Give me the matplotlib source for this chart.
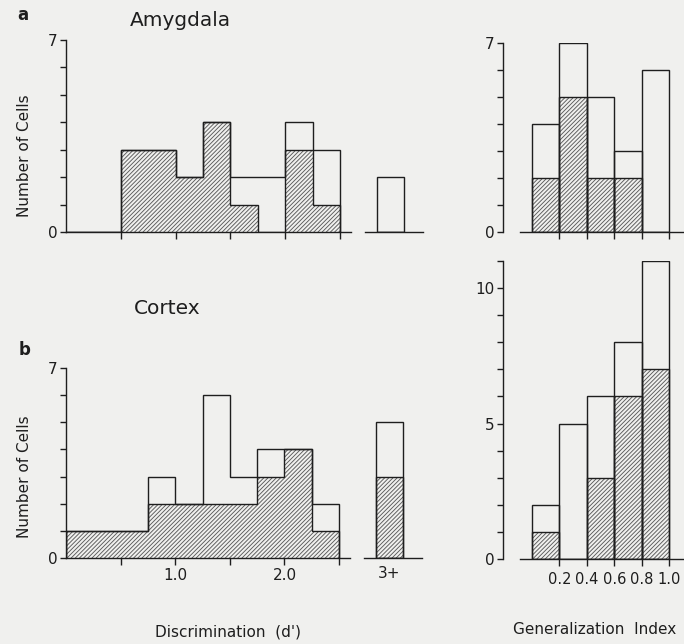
import numpy as np
import matplotlib
matplotlib.use("Agg")
from matplotlib import pyplot as plt

# ---- data ----
disc_edges = np.arange(0, 2.51, 0.25)
amyg_disc_total = [0, 0, 3, 3, 2, 4, 2, 2, 4, 3]
amyg_disc_hatch = [0, 0, 3, 3, 2, 4, 1, 0, 3, 1]
amyg_3plus_total = [2]
amyg_3plus_hatch = [0]

ctx_disc_total = [1, 1, 1, 3, 2, 6, 3, 4, 4, 2]
ctx_disc_hatch = [1, 1, 1, 2, 2, 2, 2, 3, 4, 1]
ctx_3plus_total = [5]
ctx_3plus_hatch = [3]

gen_centers = [0.1, 0.3, 0.5, 0.7, 0.9]
amyg_gen_total = [4, 7, 5, 3, 6]
amyg_gen_hatch = [2, 5, 2, 2, 0]
ctx_gen_total = [2, 5, 6, 8, 11]
ctx_gen_hatch = [1, 0, 3, 6, 7]

# ---- style ----
W, H = 684, 644
BG = "#f0f0ee"
INK = "#1e1e1e"
HATCH_COL = "#5a5a5a"
HATCH = "/" * 8
plt.rcParams["font.family"] = "DejaVu Sans"
plt.rcParams["hatch.linewidth"] = 0.65
plt.rcParams["hatch.color"] = HATCH_COL

fig = plt.figure(figsize=(W / 100, H / 100), dpi=100, facecolor=BG)


def px_axes(x0, x1, ytop, ybot):
    a = fig.add_axes([x0 / W, 1 - ybot / H, (x1 - x0) / W, (ybot - ytop) / H])
    a.set_facecolor("none")
    for s in a.spines.values():
        s.set_color(INK)
        s.set_linewidth(1.0)
    a.spines["top"].set_visible(False)
    a.spines["right"].set_visible(False)
    a.tick_params(direction="out", length=4, width=1.0, color=INK,
                  labelcolor=INK, labelsize=11, pad=2)
    return a


def stair_hist(a, total, hatched, edges):
    a.stairs(hatched, edges, fill=True, hatch=HATCH, facecolor="none",
             edgecolor=HATCH_COL, linewidth=0)
    a.stairs(hatched, edges, fill=False, baseline=0, color=INK, linewidth=1.0)
    a.stairs(total, edges, fill=False, baseline=0, color=INK, linewidth=1.0)


def bar_hist(a, x, total, hatched, width):
    a.bar(x, hatched, width=width, facecolor="none", edgecolor=HATCH_COL,
          hatch=HATCH, linewidth=0)
    a.bar(x, hatched, width=width, facecolor="none", edgecolor=INK, linewidth=1.0)
    a.bar(x, total, width=width, facecolor="none", edgecolor=INK, linewidth=1.0)


def left_panel(rect, rect3, total, hatched, t3, h3, show_labels):
    a = px_axes(*rect)
    stair_hist(a, total, hatched, disc_edges)
    a.set_xlim(0, 2.6)
    a.set_ylim(0, 7)
    a.set_yticks(range(8))
    a.set_yticklabels(["0", "", "", "", "", "", "", "7"])
    a.set_xticks([0.5, 1.0, 1.5, 2.0, 2.5])
    if show_labels:
        a.set_xticklabels(["", "1.0", "", "2.0", ""])
    else:
        a.set_xticklabels([])
    a.tick_params(axis="x", length=5)

    b = px_axes(*rect3)
    bar_hist(b, [3.0], t3, h3, 0.25)
    b.set_xlim(2.766, 3.298)
    b.set_ylim(0, 7)
    b.spines["left"].set_visible(False)
    b.set_yticks([])
    b.set_xticks([3.0])
    b.set_xticklabels(["3+"] if show_labels else [""])
    b.tick_params(axis="x", length=0, pad=6)
    return a


def right_panel(rect, total, hatched, ymax, ylabels, show_labels):
    a = px_axes(*rect)
    bar_hist(a, gen_centers, total, hatched, 0.2)
    a.set_xlim(-0.212, 1.102)
    a.set_ylim(0, ymax)
    a.spines["bottom"].set_bounds(-0.088, 1.102)
    a.set_yticks(range(ymax + 1))
    a.set_yticklabels([str(v) if v in ylabels else "" for v in range(ymax + 1)])
    a.set_xticks([0.2, 0.4, 0.6, 0.8, 1.0])
    if show_labels:
        a.set_xticklabels(["0.2", "0.4", "0.6", "0.8", "1.0"], fontsize=10.5)
    else:
        a.set_xticklabels([])
    a.tick_params(axis="x", length=5, pad=4)
    return a


left_panel((66, 351, 40, 232), (365, 423, 40, 232),
           amyg_disc_total, amyg_disc_hatch, amyg_3plus_total, amyg_3plus_hatch, False)
left_panel((66, 350, 368, 558), (364, 422, 368, 558),
           ctx_disc_total, ctx_disc_hatch, ctx_3plus_total, ctx_3plus_hatch, True)
right_panel((503, 683, 43, 232), amyg_gen_total, amyg_gen_hatch, 7, (0, 7), False)
right_panel((503, 683, 261, 559), ctx_gen_total, ctx_gen_hatch, 11, (0, 5, 10), True)


def ftext(x, y, s, **kw):
    fig.text(x / W, 1 - y / H, s, color=INK, **kw)


ftext(23, 15, "a", fontsize=12, fontweight="bold", ha="center", va="center")
ftext(25, 350, "b", fontsize=12, fontweight="bold", ha="center", va="center")
ftext(180, 20, "Amygdala", fontsize=14.5, ha="center", va="center")
ftext(167, 308, "Cortex", fontsize=14.5, ha="center", va="center")
ftext(25, 156, "Number of Cells", fontsize=11, rotation=90, ha="center", va="center")
ftext(25, 477, "Number of Cells", fontsize=11, rotation=90, ha="center", va="center")
ftext(228, 632, "Discrimination  (d')", fontsize=11, ha="center", va="center")
ftext(595, 630, "Generalization  Index", fontsize=11, ha="center", va="center")

fig.savefig("out.png", dpi=100, facecolor=BG)
